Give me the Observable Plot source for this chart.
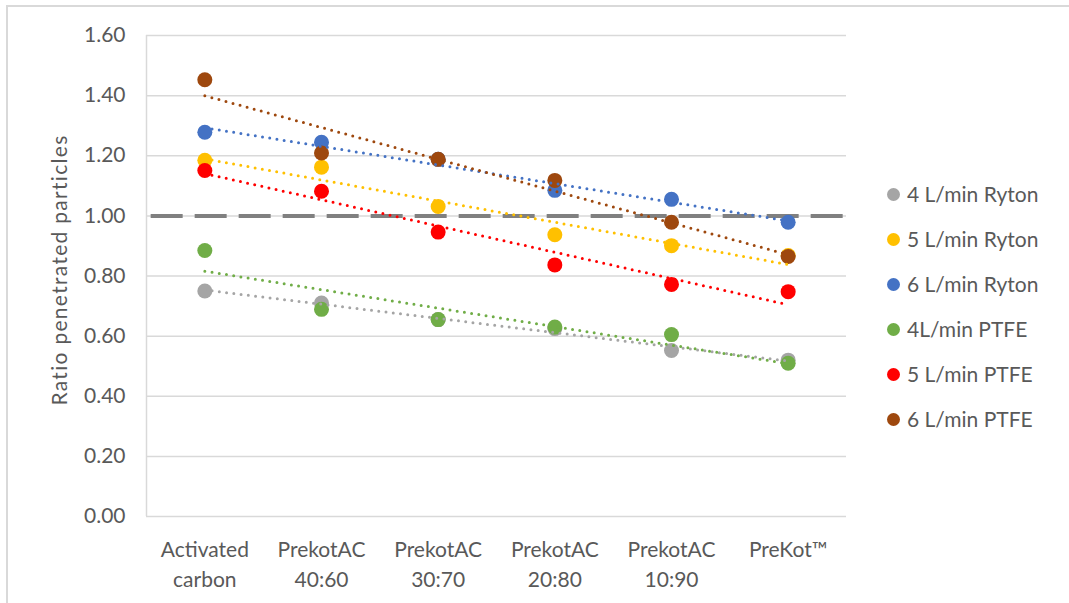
<!DOCTYPE html>
<html>
<head>
<meta charset="utf-8">
<script src="https://cdn.jsdelivr.net/npm/d3@7"></script>
<script src="https://cdn.jsdelivr.net/npm/@observablehq/plot@0.6"></script>
<style>
  html, body { margin: 0; padding: 0; background: #fff; }
  #wrap { position: relative; width: 1069px; height: 603px; overflow: hidden; font-family: Lato, "Noto Sans", sans-serif; }
  #border { position: absolute; left: 6px; top: 5px; width: 1100px; height: 700px; border-top: 2px solid #d9d9d9; border-left: 2px solid #d9d9d9; }
  #chart { position: absolute; left: 0; top: 0; }
  #ytitle { position: absolute; left: 58px; top: 270px; transform: translate(-50%, -50%) rotate(-90deg); white-space: nowrap; font-size: 21px; letter-spacing: 1.3px; color: #595959; }
  #legend { position: absolute; left: 887px; top: 180px; }
  .item { height: 45px; display: flex; align-items: flex-start; font-size: 21px; color: #595959; line-height: 28px; }
  .sw { width: 13px; height: 13px; border-radius: 50%; margin-top: 8px; margin-right: 7px; }
</style>
</head>
<body>
<div id="wrap">
  <div id="border"></div>
  <div id="chart"></div>
  <div id="ytitle"></div>
  <div id="legend"></div>
</div>
<script>
const categories = ["Activated\ncarbon", "PrekotAC\n40:60", "PrekotAC\n30:70", "PrekotAC\n20:80", "PrekotAC\n10:90", "PreKot™"];
const seriesNames = ["4 L/min Ryton", "5 L/min Ryton", "6 L/min Ryton", "4L/min PTFE", "5 L/min PTFE", "6 L/min PTFE"];
const seriesColors = ["#A5A5A5", "#FFC000", "#4472C4", "#70AD47", "#FF0000", "#9E480E"];
const ryton4 = [0.75, 0.71, 0.655, 0.625, 0.552, 0.52];
const ryton5 = [1.185, 1.162, 1.031, 0.937, 0.901, 0.868];
const ryton6 = [1.278, 1.245, 1.188, 1.085, 1.055, 0.979];
const ptfe4 = [0.885, 0.689, 0.655, 0.63, 0.605, 0.51];
const ptfe5 = [1.151, 1.082, 0.946, 0.837, 0.772, 0.748];
const ptfe6 = [1.453, 1.209, 1.188, 1.118, 0.979, 0.865];
const referenceLevel = [1.0];
const yTicks = [0, 0.2, 0.4, 0.6, 0.8, 1.0, 1.2, 1.4, 1.6];
const yTitle = "Ratio penetrated particles";

const allSeries = [ryton4, ryton5, ryton6, ptfe4, ptfe5, ptfe6];
const data = [];
allSeries.forEach((vals, s) => vals.forEach((v, i) => data.push({series: seriesNames[s], i, v})));

const xDomain = [-0.5, categories.length - 0.5];

const plot = Plot.plot({
  width: 1069,
  height: 603,
  marginLeft: 146,
  marginRight: 223,
  marginTop: 35,
  marginBottom: 87,
  style: {fontFamily: "Lato, 'Noto Sans', sans-serif", background: "transparent"},
  x: {domain: xDomain, ticks: d3.range(categories.length), tickFormat: i => categories[i]},
  y: {domain: [0, 1.6], ticks: yTicks},
  color: {domain: seriesNames, range: seriesColors},
  marks: [
    Plot.gridY(yTicks, {stroke: "#d9d9d9", strokeOpacity: 1, strokeWidth: 1.5}),
    Plot.ruleX([xDomain[0]], {stroke: "#d9d9d9", strokeWidth: 1.5}),
    Plot.axisY(yTicks, {tickSize: 0, tickPadding: 21, tickFormat: d3.format(".2f"), fontSize: 21, fill: "#595959", label: null}),
    Plot.axisX(d3.range(categories.length), {tickSize: 0, tickPadding: 20, tickFormat: i => categories[i], fontSize: 21, fill: "#595959", lineHeight: 1.4, label: null}),
    Plot.ruleY(referenceLevel, {x1: xDomain[0] + 0.04, x2: xDomain[1], stroke: "#808080", strokeWidth: 4, strokeDasharray: "32,12"}),
    Plot.dot(data, {x: "i", y: "v", fill: "series", r: 7.5}),
    Plot.linearRegressionY(data, {x: "i", y: "v", stroke: "series", ci: 0, strokeWidth: 3, strokeDasharray: "0,7.3", strokeLinecap: "round"})
  ]
});
document.getElementById("chart").appendChild(plot);
document.getElementById("ytitle").textContent = yTitle;

const legend = document.getElementById("legend");
seriesNames.forEach((name, k) => {
  const item = document.createElement("div");
  item.className = "item";
  const sw = document.createElement("div");
  sw.className = "sw";
  sw.style.background = seriesColors[k];
  const t = document.createElement("span");
  t.textContent = name;
  item.appendChild(sw);
  item.appendChild(t);
  legend.appendChild(item);
});
</script>
</body>
</html>
